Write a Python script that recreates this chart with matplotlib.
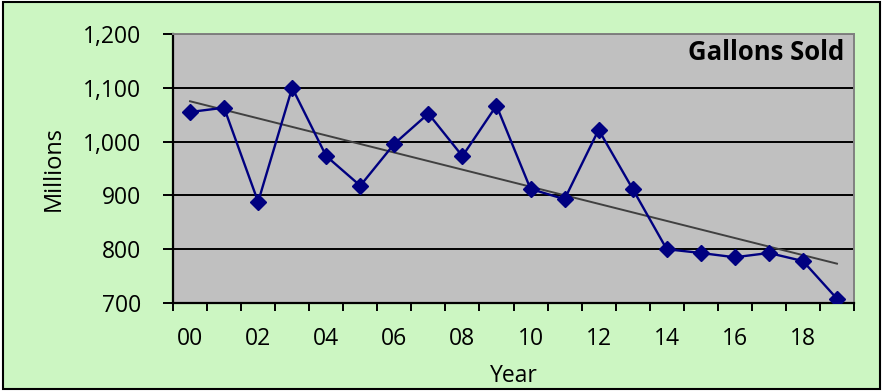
import numpy as np
import matplotlib.pyplot as plt
from matplotlib.patches import Rectangle

years = list(range(20))
year_labels = ['00', '02', '04', '06', '08', '10', '12', '14', '16', '18']
gallons = [1055, 1063, 888, 1100, 973, 918, 996, 1052, 973, 1067,
           912, 893, 1022, 912, 800, 793, 785, 793, 778, 708]

plt.rcParams['font.family'] = ['Open Sans', 'DejaVu Sans']

fig = plt.figure(figsize=(8.84, 3.91), dpi=100)
fig.patch.set_facecolor('white')
fig.patches.append(Rectangle((3 / 884, 2 / 391), 877 / 884, 387 / 391,
                             transform=fig.transFigure, facecolor='#CCF6C2',
                             edgecolor='black', linewidth=1.5, zorder=-10))

ax = fig.add_axes([173 / 884, 88 / 391, 681 / 884, 269 / 391])
ax.set_facecolor('#C0C0C0')

x = np.array(years)
y = np.array(gallons)
ax.plot(x, y, color='#000080', lw=1.7, marker='D', ms=8, zorder=3)

# linear trend line
k, b = np.polyfit(x, y, 1)
ax.plot(x, k * x + b, color='#404040', lw=1.4, zorder=2)

ax.set_xlim(-0.5, 19.5)
ax.set_ylim(700, 1200)
ax.set_yticks(range(700, 1201, 100))
ax.set_yticklabels([f'{v:,}' for v in range(700, 1201, 100)])
ax.yaxis.grid(True, color='black', lw=1.4)
ax.set_axisbelow(True)

ax.set_xticks(np.arange(-0.5, 20, 1))
ax.set_xticklabels([])
ax.set_xticks(range(0, 20, 2), minor=True)
ax.set_xticklabels(year_labels, minor=True)
ax.tick_params(axis='x', which='major', length=6, width=1.4, color='black')
ax.tick_params(axis='x', which='minor', length=0, pad=17, labelsize=16.5)
ax.tick_params(axis='y', length=7, width=1.4, labelsize=16.5, pad=16)

for side in ['left', 'bottom']:
    ax.spines[side].set_color('black')
    ax.spines[side].set_linewidth(1.6)
for side in ['top', 'right']:
    ax.spines[side].set_color('#808080')
    ax.spines[side].set_linewidth(1.4)

ax.set_ylabel('Millions', fontsize=17, labelpad=12)
ax.set_xlabel('Year', fontsize=16.5, labelpad=10)
ax.text(0.985, 0.93, 'Gallons Sold', transform=ax.transAxes, ha='right',
        va='center', fontsize=18.5, fontweight='bold')

fig.savefig('out.png', dpi=100)
